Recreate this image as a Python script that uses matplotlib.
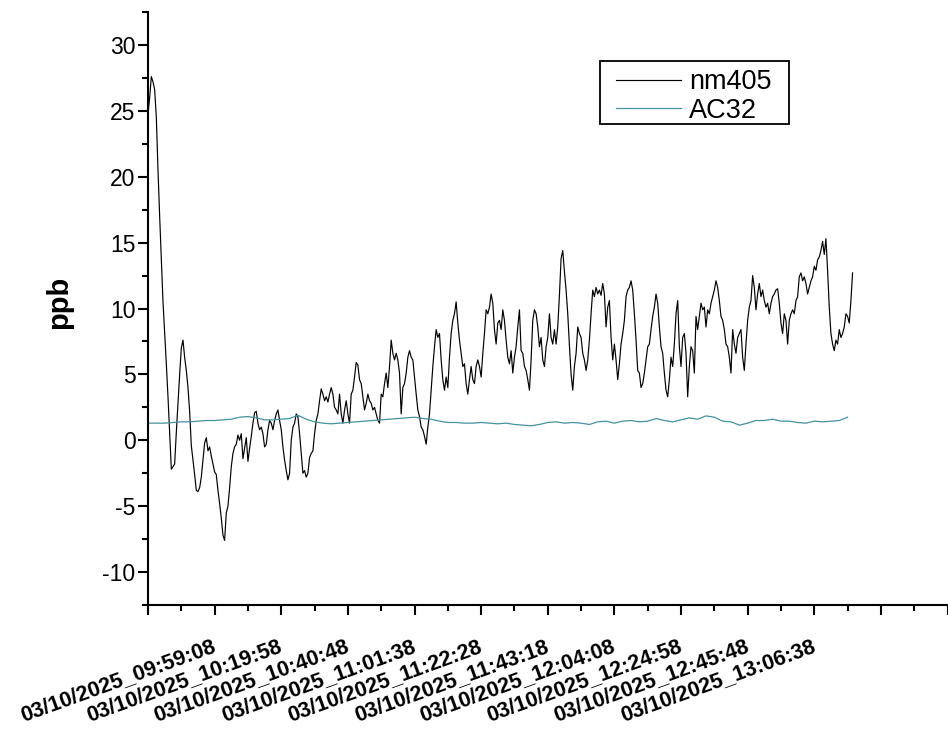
import matplotlib
matplotlib.use('Agg')
import matplotlib.pyplot as plt
from matplotlib.ticker import MultipleLocator, FixedLocator
from matplotlib.transforms import ScaledTranslation
from matplotlib.patches import Rectangle
import matplotlib.font_manager as fm
import numpy as np

plt.rcParams['font.family'] = ['Liberation Sans', 'DejaVu Sans']
plt.rcParams['axes.unicode_minus'] = False

# ---------------- data ----------------
tick_labels = ["03/10/2025_09:59:08", "03/10/2025_10:19:58", "03/10/2025_10:40:48",
               "03/10/2025_11:01:38", "03/10/2025_11:22:28", "03/10/2025_11:43:18",
               "03/10/2025_12:04:08", "03/10/2025_12:24:58", "03/10/2025_12:45:48",
               "03/10/2025_13:06:38", "", "", ""]
tick_step_s = 1250.0      # seconds between labelled ticks
nm405_step_s = 31.25      # sampling step of nm405 (s)
ac32_step_s = 156.25      # sampling step of AC32 (s)

nm405 = [
    24.8, 26.0, 27.6, 27.2, 26.6, 24.5, 20.5, 17.0, 13.8, 10.5,
    8.2, 5.8, 3.3, 0.6, -2.2, -2.0, -1.8, 0.6, 2.8, 5.0,
    7.0, 7.6, 6.3, 5.3, 4.0, 2.2, -0.4, -1.5, -2.6, -3.8,
    -3.9, -3.6, -2.8, -1.5, -0.2, 0.2, -0.8, -0.5, -1.2, -1.8,
    -2.4, -2.6, -3.8, -4.8, -5.9, -7.2, -7.6, -5.5, -5.0, -3.6,
    -2.0, -1.0, -0.5, -0.3, 0.4, 0.0, 0.5, -1.4, -0.6, 0.2,
    -1.6, -0.6, 0.3, 1.3, 2.1, 2.2, 1.3, 0.8,
    1.0, 0.5, -0.5, -0.3, 0.8, 1.5, 1.3, 0.8, 1.5, 2.0,
    2.3, 1.5, 0.8, -0.5, -1.5, -2.3, -3.0, -2.5, 0.0, 1.0,
    1.3, 2.0, 1.8, 0.5, -1.0, -2.5, -2.3, -2.8, -2.5, -1.3,
    -1.0, -0.8, 0.5, 1.5, 2.0, 3.0, 3.9, 3.5, 3.0, 3.3,
    2.9, 3.5, 4.0, 3.5, 2.5, 2.3, 2.0, 3.5, 2.0, 1.3,
    2.3, 3.0, 2.0, 1.3, 3.5, 3.8, 4.8, 5.9, 5.7, 4.6,
    4.3, 3.3, 2.3, 2.8, 3.5, 3.0, 2.8, 2.3, 2.5, 2.0,
    1.5,
    1.3, 3.5, 3.3, 4.3, 5.1, 4.0, 5.6, 7.6, 6.6, 6.1,
    6.6, 6.1, 5.1, 2.0, 4.0, 4.3, 5.1, 6.3, 6.8, 6.3,
    6.1, 4.8, 3.5, 2.3, 1.8, 1.0, 0.8, 0.3, -0.3, 1.0,
    2.0, 3.8, 5.6, 7.1, 8.4, 7.8, 8.1, 6.1, 4.6, 3.8,
    4.8, 4.0, 6.3, 8.1, 9.1, 9.6, 10.5, 8.9, 7.6, 6.6,
    5.6, 5.8, 4.3, 3.5, 4.6, 5.6, 4.6, 4.3, 5.6, 6.1,
    5.6, 4.8, 6.6, 8.1, 9.9, 9.6, 10.1, 11.1, 10.4, 8.4,
    7.3, 8.9, 9.1, 8.4, 9.9, 9.1, 7.6, 6.3, 5.8, 6.8,
    5.1, 6.3, 7.1, 8.6, 9.9, 6.8, 6.6, 5.6, 5.3, 4.6,
    3.8, 6.1, 9.1, 9.9, 9.6, 8.6, 7.1, 7.8, 6.1, 5.6,
    7.1, 7.8, 9.6, 7.8, 7.3, 8.4, 7.3, 8.6, 11.0, 13.8,
    14.4, 12.8, 11.4, 9.6, 7.2, 5.0, 3.8, 5.6, 6.6, 8.6,
    8.1, 7.8, 6.6, 6.1, 5.3, 6.1, 7.6, 9.6, 11.4, 10.9,
    11.6, 11.1, 11.4, 11.0, 11.9, 11.1, 8.6, 10.1, 10.6,
    7.8, 6.1, 7.3, 6.1, 4.6, 5.8, 7.3, 8.1, 9.1, 10.9,
    11.4, 11.6, 12.1, 11.4, 9.6, 7.6, 5.3, 5.1, 4.0, 4.3,
    5.1, 6.1, 7.1, 7.3, 8.4, 9.4, 10.1, 11.1, 10.4, 8.6,
    7.1, 6.6, 5.1, 3.8, 3.3, 4.6, 6.3, 5.6, 7.3, 9.6,
    10.6, 7.1, 5.6, 7.8, 8.1, 6.6, 3.3, 5.6, 7.1, 6.8,
    5.1, 9.4, 8.4, 9.4, 10.4, 9.9, 10.1, 8.6, 9.9, 9.6,
    10.4, 10.9, 11.4, 12.1, 11.6, 10.6, 9.4, 9.1, 8.4,
    7.3, 7.1, 6.3, 5.1, 8.4, 7.3, 6.6, 7.8, 8.1, 8.4,
    6.3, 5.3, 7.3, 9.1, 10.1, 10.6, 12.5, 11.6, 9.9, 11.1,
    11.9, 10.9, 11.4, 10.6, 10.1, 10.4, 9.6, 10.4, 10.9, 11.1,
    11.4, 11.5, 10.4, 8.9, 8.1, 9.6, 9.1, 7.3, 9.1, 9.6,
    9.9, 9.6, 10.6, 10.9, 12.4, 12.7, 12.1, 12.4, 11.9, 11.1,
    11.6, 12.1, 12.4, 13.2, 12.9, 13.7, 13.9, 14.4, 15.1, 14.1,
    15.3, 12.9, 10.1, 8.1, 7.3, 6.8, 7.6, 7.3, 8.4, 7.8,
    8.1, 8.6, 9.6, 9.4, 8.9, 10.6, 12.7,
]

ac32 = [
    1.30, 1.30, 1.30, 1.35, 1.40, 1.40, 1.45, 1.50, 1.50, 1.55,
    1.60, 1.75, 1.80, 1.70, 1.55, 1.55, 1.60, 1.65, 1.90, 1.60,
    1.40, 1.30, 1.25, 1.30, 1.35, 1.40, 1.45, 1.50, 1.55, 1.60,
    1.65, 1.70, 1.75, 1.65, 1.60, 1.45, 1.35, 1.35, 1.30, 1.30,
    1.35, 1.30, 1.25, 1.30, 1.20, 1.15, 1.10, 1.20, 1.35, 1.40,
    1.30, 1.35, 1.30, 1.20, 1.40, 1.45, 1.30, 1.45, 1.50, 1.40,
    1.45, 1.65, 1.50, 1.40, 1.55, 1.70, 1.60, 1.85, 1.75, 1.45,
    1.40, 1.15, 1.30, 1.50, 1.50, 1.60, 1.45, 1.45, 1.35, 1.30,
    1.45, 1.40, 1.45, 1.50, 1.75,
]

# narrow font for the slanted date labels, if installed
_names = {f.name for f in fm.fontManager.ttflist}
narrow_choice = next((n for n in ('Liberation Sans Narrow', 'DejaVu Sans Condensed') if n in _names), None)
label_family = [narrow_choice, 'Liberation Sans'] if narrow_choice else ['Liberation Sans']
label_size = 17 if narrow_choice else 15.5

# ---------------- figure ----------------
W, H, DPI = 948, 734, 100
fig = plt.figure(figsize=(W / DPI, H / DPI), dpi=DPI)
ax = fig.add_axes([148 / W, 1 - 605 / H, 0.9995 - 148 / W, (605 - 12) / H])

t_nm = np.arange(len(nm405)) * nm405_step_s
t_ac = np.arange(len(ac32)) * ac32_step_s

ax.plot(t_nm, nm405, color='black', lw=0.85, label='nm405')
ax.plot(t_ac, ac32, color='#4393a0', lw=0.9, label='AC32')

ax.set_xlim(0, tick_step_s * (len(tick_labels) - 1))
ax.set_ylim(-12.5, 32.5)

for s in ('top', 'right'):
    ax.spines[s].set_visible(False)
for s in ('left', 'bottom'):
    ax.spines[s].set_linewidth(1.5)

ax.xaxis.set_major_locator(FixedLocator(np.arange(len(tick_labels)) * tick_step_s))
ax.xaxis.set_minor_locator(MultipleLocator(tick_step_s / 2))
ax.yaxis.set_major_locator(MultipleLocator(5))
ax.yaxis.set_minor_locator(MultipleLocator(2.5))

ax.tick_params(which='major', direction='out', length=7, width=1.5)
ax.tick_params(which='minor', direction='out', length=4, width=1.5)
ax.tick_params(axis='y', labelsize=16.5, pad=2)
ax.tick_params(axis='x', pad=0)

ax.set_xticklabels(tick_labels, rotation=20, ha='right', va='top',
                   rotation_mode='anchor', fontsize=label_size,
                   fontweight='bold', family=label_family)
offset = ScaledTranslation(0.63, -0.21, fig.dpi_scale_trans)
for lab in ax.get_xticklabels():
    lab.set_transform(lab.get_transform() + offset)

ax.set_ylabel('ppb', fontsize=21, fontweight='bold')
ax.yaxis.set_label_coords(-0.094, 0.51)

leg = ax.legend(loc='upper left', bbox_to_anchor=(608 / W, 1 - 61 / H),
                bbox_transform=fig.transFigure, frameon=False,
                fontsize=19.5, handlelength=2.4,
                handletextpad=0.3, borderpad=0.3, labelspacing=0.1,
                borderaxespad=0)
# legend frame (Origin style rectangle)
fig.patches.append(Rectangle((600 / W, 1 - 124 / H), 189 / W, 63 / H,
                             transform=fig.transFigure, fill=False,
                             edgecolor='black', linewidth=1.3))

fig.savefig('out.png', dpi=DPI, facecolor='white')
